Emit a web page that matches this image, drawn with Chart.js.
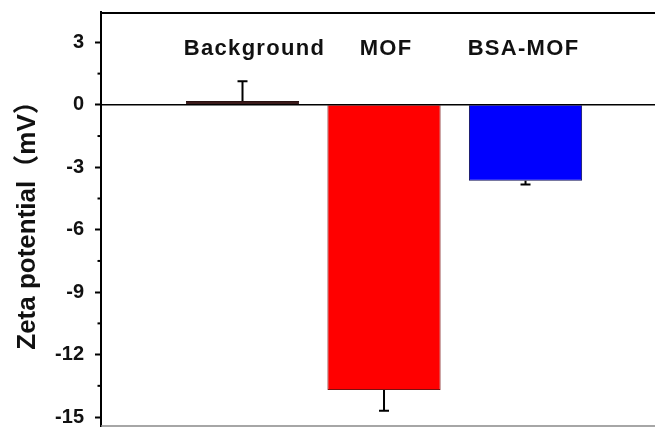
<!DOCTYPE html>
<html>
<head>
<meta charset="utf-8">
<script src="https://cdn.jsdelivr.net/npm/chart.js@4/dist/chart.umd.min.js"></script>
<style>
  html, body { margin: 0; padding: 0; background: #ffffff; }
  canvas { display: block; }
</style>
</head>
<body>
<canvas id="c" width="655" height="427"></canvas>
<script>
// ---- data ----
const categories = ['Background', 'MOF', 'BSA-MOF'];
const categoryPositions = [1, 2, 3];
const zetaValues = [0.18, -13.7, -3.65];
const zetaErrors = [0.95, 1.0, 0.18];
const barColors = ['#3a1a1a', '#ff0000', '#0000ff'];
const barBorders = ['#2a1010', '#7a1010', '#10105a'];
const yAxisTitle = 'Zeta potential（mV）';
const yMin = -15.43, yMax = 4.46, yStep = 3;

const FONT = "'Liberation Sans', Arial, 'Noto Sans CJK SC', sans-serif";

const framePlugin = {
  id: 'frame',
  afterDatasetsDraw(chart, args, opts) {
    const { ctx, chartArea, scales } = chart;
    const y = scales.y;
    const meta = chart.getDatasetMeta(0);
    ctx.save();
    // zero line
    const y0 = y.getPixelForValue(0);
    ctx.strokeStyle = '#000';
    ctx.lineWidth = 1.5;
    ctx.beginPath();
    ctx.moveTo(chartArea.left, y0);
    ctx.lineTo(chartArea.right, y0);
    ctx.stroke();
    // error bars (outward side)
    ctx.lineWidth = 2;
    meta.data.forEach((bar, i) => {
      const v = zetaValues[i];
      const e = zetaErrors[i];
      const end = v >= 0 ? v + e : v - e;
      const p1 = y.getPixelForValue(v);
      const p2 = y.getPixelForValue(end);
      ctx.beginPath();
      ctx.moveTo(bar.x, p1);
      ctx.lineTo(bar.x, p2);
      ctx.moveTo(bar.x - 5, p2);
      ctx.lineTo(bar.x + 5, p2);
      ctx.stroke();
    });
    // top border
    ctx.lineWidth = 2;
    ctx.beginPath();
    ctx.moveTo(chartArea.left, chartArea.top + 1);
    ctx.lineTo(chartArea.right, chartArea.top + 1);
    ctx.stroke();
    // bottom border (gray)
    ctx.strokeStyle = '#888';
    ctx.lineWidth = 1.5;
    ctx.beginPath();
    ctx.moveTo(chartArea.left, chartArea.bottom);
    ctx.lineTo(chartArea.right, chartArea.bottom);
    ctx.stroke();
    // minor ticks between major ticks
    ctx.strokeStyle = '#000';
    ctx.lineWidth = 2;
    const ticks = y.ticks.map(t => t.value);
    const minors = [];
    for (let i = 0; i < ticks.length; i++) {
      minors.push(ticks[i] - yStep / 2);
      minors.push(ticks[i] + yStep / 2);
    }
    [...new Set(minors)].forEach(v => {
      if (v < y.min || v > y.max) return;
      const py = y.getPixelForValue(v);
      ctx.beginPath();
      ctx.moveTo(chartArea.left - 3.5, py);
      ctx.lineTo(chartArea.left, py);
      ctx.stroke();
    });
    // category labels inside plot
    ctx.fillStyle = '#111';
    ctx.font = 'bold 22px ' + FONT;
    ctx.textAlign = 'center';
    ctx.textBaseline = 'middle';
    try { ctx.letterSpacing = '1.3px'; } catch (e) {}
    const shifts = opts.labelShift || [];
    meta.data.forEach((bar, i) => {
      ctx.fillText(categories[i], bar.x + (shifts[i] || 0), y.getPixelForValue(2.7));
    });
    ctx.restore();
  }
};

new Chart(document.getElementById('c'), {
  type: 'bar',
  data: {
    datasets: [{
      data: categoryPositions.map((x, i) => ({ x: x, y: zetaValues[i] })),
      backgroundColor: barColors,
      borderColor: barBorders,
      borderWidth: 1,
      barPercentage: 1,
      categoryPercentage: 0.8
    }]
  },
  options: {
    responsive: false,
    maintainAspectRatio: false,
    animation: false,
    devicePixelRatio: 1,
    layout: { padding: { top: 12, right: 0, bottom: 1, left: 0 } },
    plugins: {
      legend: { display: false },
      tooltip: { enabled: false },
      frame: { labelShift: [12, 2, -2] }
    },
    scales: {
      x: {
        type: 'linear',
        display: false,
        offset: false,
        grid: { offset: false },
        min: 0,
        max: 3.915,
        ticks: { stepSize: 1, includeBounds: false }
      },
      y: {
        type: 'linear',
        min: yMin,
        max: yMax,
        afterFit(scale) {
          scale.width = 101;
          scale.paddingTop = 0;
          scale.paddingBottom = 0;
        },
        ticks: {
          stepSize: yStep,
          includeBounds: false,
          color: '#111',
          padding: 11,
          font: { family: FONT, size: 20, weight: 'bold' }
        },
        grid: {
          drawOnChartArea: false,
          drawTicks: true,
          tickLength: 6,
          tickWidth: 2,
          tickColor: '#000'
        },
        border: { display: true, color: '#000', width: 2 },
        title: {
          display: true,
          text: yAxisTitle,
          color: '#111',
          padding: { top: 12, bottom: 0 },
          font: { family: FONT, size: 26, weight: 'bold' }
        }
      }
    }
  },
  plugins: [framePlugin]
});
</script>
</body>
</html>
